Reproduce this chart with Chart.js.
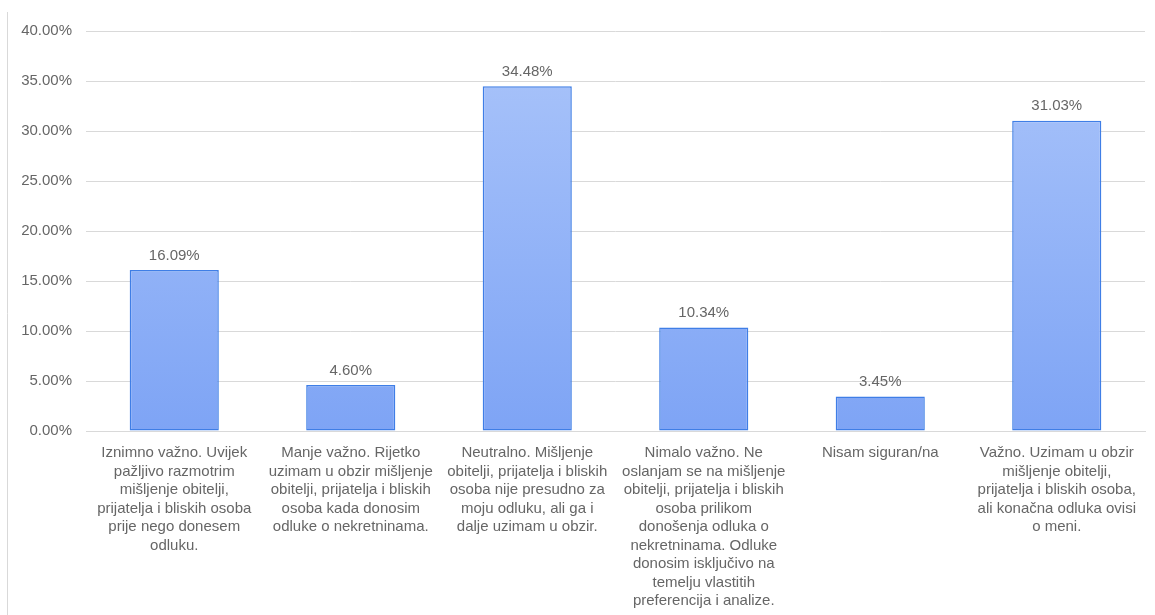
<!DOCTYPE html>
<html>
<head>
<meta charset="utf-8">
<script src="https://cdn.jsdelivr.net/npm/chart.js@4"></script>
<style>
  html, body { margin: 0; padding: 0; background: #fff; }
  #wrap { width: 1155px; height: 615px; position: relative; }
</style>
</head>
<body>
<div id="wrap"><canvas id="chart"></canvas></div>
<script>
// categories (already wrapped the way the reference wraps them)
const categories = [
    ["Iznimno važno. Uvijek", "pažljivo razmotrim", "mišljenje obitelji,", "prijatelja i bliskih osoba", "prije nego donesem", "odluku."],
    ["Manje važno. Rijetko", "uzimam u obzir mišljenje", "obitelji, prijatelja i bliskih", "osoba kada donosim", "odluke o nekretninama."],
    ["Neutralno. Mišljenje", "obitelji, prijatelja i bliskih", "osoba nije presudno za", "moju odluku, ali ga i", "dalje uzimam u obzir."],
    ["Nimalo važno. Ne", "oslanjam se na mišljenje", "obitelji, prijatelja i bliskih", "osoba prilikom", "donošenja odluka o", "nekretninama. Odluke", "donosim isključivo na", "temelju vlastitih", "preferencija i analize."],
    ["Nisam siguran/na"],
    ["Važno. Uzimam u obzir", "mišljenje obitelji,", "prijatelja i bliskih osoba,", "ali konačna odluka ovisi", "o meni."]
]
const percentages = [16.09, 4.60, 34.48, 10.34, 3.45, 31.03]
const yTicks = [0, 5, 10, 15, 20, 25, 30, 35, 40]

const textColor = "#666666"
const gridColor = "#d9d9d9"
const fontFamily = "'Liberation Sans', Arial, sans-serif"

function barGradient(context) {
    const chart = context.chart
    const { ctx, chartArea } = chart
    if (!chartArea) return "#92b3f7"
    const el = context.element
    const top = el && el.y !== undefined ? el.y : chartArea.top
    const bottom = el && el.base !== undefined ? el.base : chartArea.bottom
    if (!isFinite(top) || !isFinite(bottom) || top === bottom) return "#92b3f7"
    const g = ctx.createLinearGradient(0, top, 0, bottom)
    g.addColorStop(0, "#abc5fa")
    g.addColorStop(1, "#7ea4f5")
    return g
}

function valueLabelsPlugin() {
    return {
        id: "valueLabels",
        afterDatasetsDraw: (chart) => {
            const { ctx } = chart
            const meta = chart.getDatasetMeta(0)
            ctx.save()
            ctx.font = "15px " + fontFamily
            ctx.fillStyle = textColor
            ctx.textAlign = "center"
            ctx.textBaseline = "bottom"
            meta.data.forEach((bar, i) => {
                ctx.fillText(percentages[i].toFixed(2) + "%", bar.x, bar.y - 7)
            })
            ctx.restore()
        }
    }
}

function leftRulePlugin() {
    return {
        id: "leftRule",
        beforeDraw: (chart) => {
            const { ctx } = chart
            ctx.save()
            ctx.fillStyle = "#ffffff"
            ctx.fillRect(0, 0, chart.width, chart.height)
            ctx.strokeStyle = "#d9d9d9"
            ctx.lineWidth = 1
            ctx.beginPath()
            ctx.moveTo(7.5, 12)
            ctx.lineTo(7.5, chart.height)
            ctx.stroke()
            ctx.restore()
        }
    }
}

const canvas = document.getElementById("chart")
new Chart(canvas.getContext("2d"), {
    type: "bar",
    data: {
        labels: categories,
        datasets: [{
            data: percentages,
            backgroundColor: barGradient,
            borderColor: "#3f7ee6",
            borderWidth: 1.5,
            borderSkipped: false,
            barPercentage: 0.505,
            categoryPercentage: 1
        }]
    },
    options: {
        responsive: true,
        maintainAspectRatio: false,
        animation: false,
        devicePixelRatio: 1,
        layout: { padding: { top: 31, right: 10, left: 0, bottom: 0 } },
        plugins: {
            legend: { display: false },
            tooltip: { enabled: false }
        },
        scales: {
            x: {
                grid: { display: false },
                border: { display: true, color: gridColor, width: 1 },
                ticks: {
                    autoSkip: false,
                    maxRotation: 0,
                    minRotation: 0,
                    padding: 5,
                    color: textColor,
                    font: { family: fontFamily, size: 15, lineHeight: 1.23 }
                },
                afterFit: (scale) => { scale.height = 184 }
            },
            y: {
                min: 0,
                max: 40,
                afterBuildTicks: (scale) => { scale.ticks = yTicks.map(v => ({ value: v })) },
                grid: { color: gridColor, drawTicks: false },
                border: { display: false },
                ticks: {
                    padding: 14,
                    color: textColor,
                    font: { family: fontFamily, size: 15 },
                    callback: (v) => Number(v).toFixed(2) + "%"
                },
                afterFit: (scale) => { scale.width = 86 }
            }
        }
    },
    plugins: [leftRulePlugin(), valueLabelsPlugin()]
})
</script>
</body>
</html>
